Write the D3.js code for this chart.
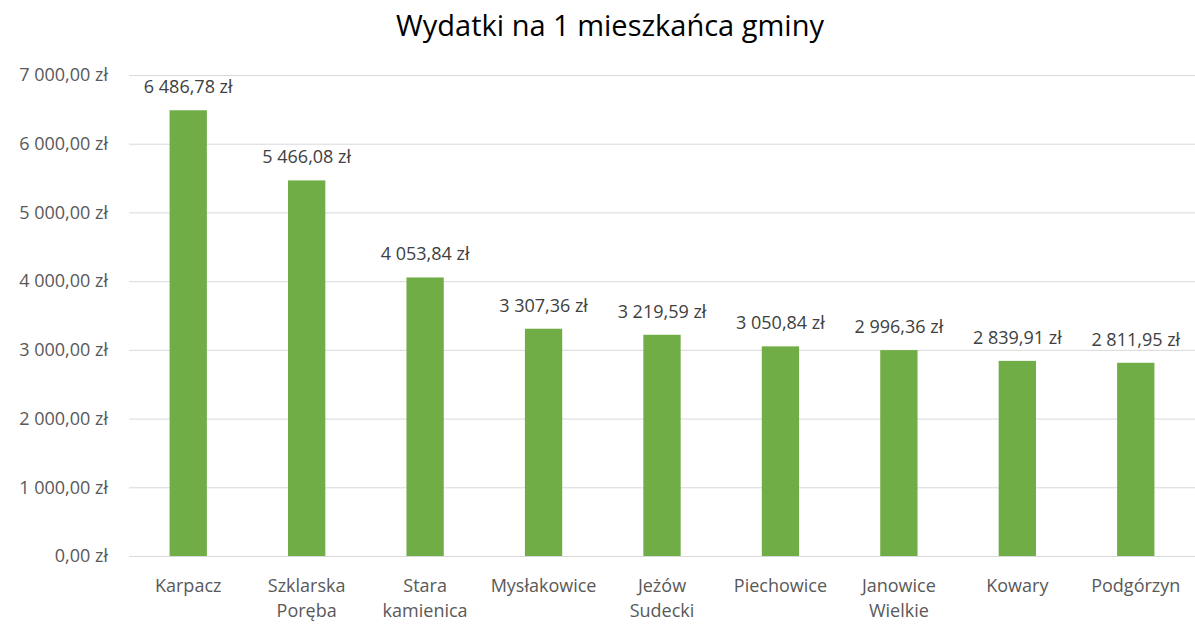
<!DOCTYPE html>
<meta charset="utf-8">
<style>
body { margin:0; background:#fff; }
svg text { font-family: "Open Sans", sans-serif; }
.grid line { stroke:#d9d9d9; }
.grid path { display:none; }
.axis path, .axis line { display:none; }
</style>
<body>
<svg width="1195" height="625" id="vis"></svg>
</body>
<script src="https://d3js.org/d3.v7.min.js"></script>
<script>
var categories = [["Karpacz"], ["Szklarska", "Poręba"], ["Stara", "kamienica"], ["Mysłakowice"],
  ["Jeżów", "Sudecki"], ["Piechowice"], ["Janowice", "Wielkie"], ["Kowary"], ["Podgórzyn"]];
var values = [6486.78, 5466.08, 4053.84, 3307.36, 3219.59, 3050.84, 2996.36, 2839.91, 2811.95];
var yTicks = [0, 1000, 2000, 3000, 4000, 5000, 6000, 7000];

var svg = d3.select("svg"),
    margin = {top: 75, right: 0, bottom: 69, left: 129},
    width = +svg.attr("width") - margin.left - margin.right,
    height = +svg.attr("height") - margin.top - margin.bottom;

var names = categories.map(function(d){ return d.join(" "); });

var x = d3.scaleBand().domain(names).range([0, width]).paddingInner(0.685).paddingOuter(0.3425),
    y = d3.scaleLinear().domain([0, 7000]).range([height, 0]);

// polish number format: "6 486,78 zł"
var pl = d3.formatLocale({decimal: ",", thousands: "\u00a0", grouping: [3], currency: ["", " zł"]});
var fmt = function(v){ return pl.format(",.2f")(v).replace(/\u00a0/g, " ") + " zł"; };

svg.append("text")
    .attr("x", 610).attr("y", 36)
    .attr("text-anchor", "middle")
    .style("font-size", "29px")
    .style("fill", "#000")
    .text("Wydatki na 1 mieszkańca gminy");

var g = svg.append("g")
    .attr("transform", "translate(" + margin.left + "," + margin.top + ")");

g.append("g")
    .attr("class", "grid")
    .call(d3.axisLeft(y).tickValues(yTicks).tickSize(-width).tickFormat(""));

var yaxis = g.append("g")
    .attr("class", "axis")
    .call(d3.axisLeft(y).tickValues(yTicks).tickSize(0).tickPadding(21).tickFormat(fmt));
yaxis.selectAll("text").style("font-size", "18px").style("fill", "#595959");

g.selectAll(".bar").data(values).enter().append("rect")
    .attr("class", "bar")
    .attr("x", function(d, i){ return x(names[i]); })
    .attr("width", x.bandwidth())
    .attr("y", function(d){ return y(d); })
    .attr("height", function(d){ return height - y(d); })
    .style("fill", "#70ad47");

g.selectAll(".lbl").data(values).enter().append("text")
    .attr("class", "lbl")
    .attr("x", function(d, i){ return x(names[i]) + x.bandwidth() / 2; })
    .attr("y", function(d){ return y(d) - 17; })
    .attr("text-anchor", "middle")
    .style("font-size", "18px")
    .style("fill", "#404040")
    .text(fmt);

var xl = g.selectAll(".xl").data(categories).enter().append("text")
    .attr("class", "xl")
    .attr("x", function(d, i){ return x(names[i]) + x.bandwidth() / 2; })
    .attr("y", height + 36)
    .attr("text-anchor", "middle")
    .style("font-size", "18px")
    .style("fill", "#595959");
xl.selectAll("tspan").data(function(d){ return d; }).enter().append("tspan")
    .attr("x", function(){ return d3.select(this.parentNode).attr("x"); })
    .attr("dy", function(d, i){ return i ? 25 : 0; })
    .text(function(d){ return d; });
</script>
